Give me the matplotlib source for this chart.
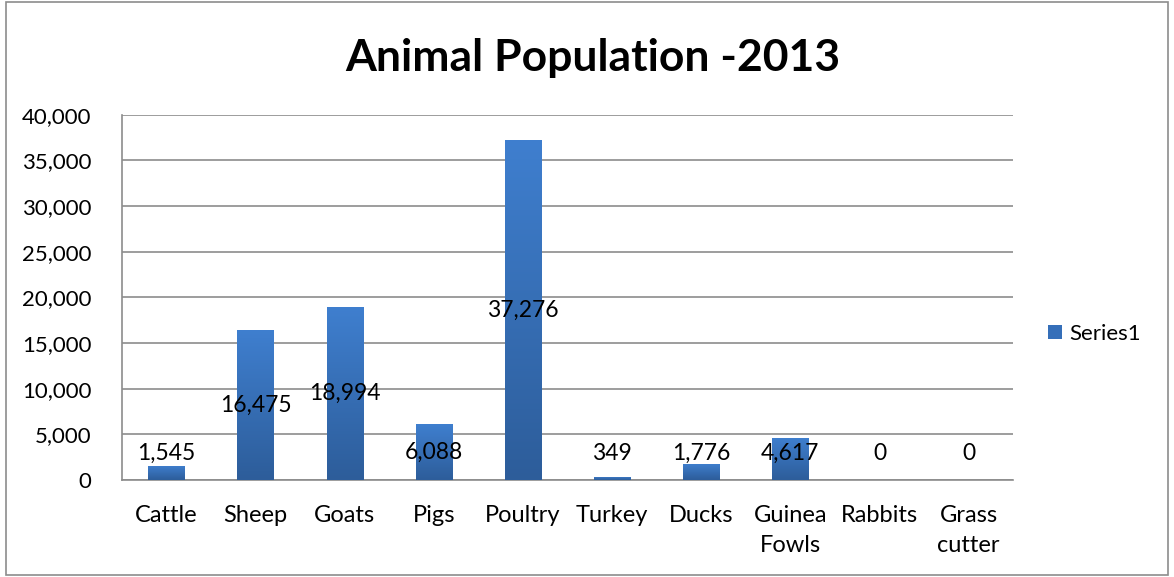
import numpy as np
import matplotlib.pyplot as plt
from matplotlib.colors import LinearSegmentedColormap
from matplotlib.patches import Rectangle

categories = ['Cattle', 'Sheep', 'Goats', 'Pigs', 'Poultry', 'Turkey', 'Ducks',
              'Guinea\nFowls', 'Rabbits', 'Grass\ncutter']
values = [1545, 16475, 18994, 6088, 37276, 349, 1776, 4617, 0, 0]

plt.rcParams['font.family'] = ['Lato', 'DejaVu Sans']

fig = plt.figure(figsize=(11.74, 5.77), dpi=100)
ax = fig.add_axes([0.104, 0.168, 0.759, 0.633])

x = np.arange(len(categories))
bars = ax.bar(x, values, width=0.41, color='#356fb9', zorder=3)

# vertical gradient inside each bar, lighter at top
cmap = LinearSegmentedColormap.from_list('bar', ['#2d5d9a', '#3f7fcf'])
grad = np.linspace(0, 1, 256).reshape(-1, 1)
for b in bars:
    h = b.get_height()
    if h <= 0:
        continue
    im = ax.imshow(grad, cmap=cmap, origin='lower', aspect='auto',
                   extent=(b.get_x(), b.get_x() + b.get_width(), 0, h), zorder=4)
    im.set_clip_path(b)

for xi, v in zip(x, values):
    ax.text(xi, max(v / 2, 2950), f'{v:,}', ha='center', va='center',
            fontsize=16.5, color='black', zorder=5)

ax.set_xlim(-0.5, len(categories) - 0.5)
ax.set_ylim(0, 40000)
ax.set_yticks(np.arange(0, 40001, 5000))
ax.yaxis.set_major_formatter(plt.FuncFormatter(lambda v, p: f'{int(v):,}'))
ax.set_xticks(x)
ax.set_xticklabels(categories, fontsize=17, linespacing=1.55)
ax.tick_params(axis='y', labelsize=16, length=0, pad=22)
ax.tick_params(axis='x', length=0, pad=18)
ax.grid(axis='y', color='#8c8c8c', linewidth=1.2, zorder=0)
for s in ['top', 'right']:
    ax.spines[s].set_visible(False)
ax.spines['left'].set_color('#8c8c8c')
ax.spines['bottom'].set_color('#8c8c8c')
ax.spines['left'].set_linewidth(1.2)
ax.spines['bottom'].set_linewidth(1.2)

fig.text(0.505, 0.9, 'Animal Population -2013', ha='center', va='center',
         fontsize=32, fontweight='bold')

# legend
fig.legend([bars[0]], ['Series1'], loc='center left',
           bbox_to_anchor=(0.893, 0.422), frameon=False, fontsize=16,
           handlelength=0.6, handleheight=0.6, handletextpad=0.35,
           borderpad=0, borderaxespad=0)

# outer border
fig.patches.append(Rectangle((0.005, 0.003), 0.99, 0.994, transform=fig.transFigure,
                             fill=False, edgecolor='#8c8c8c', linewidth=1.2))

fig.savefig('out.png', dpi=100)
